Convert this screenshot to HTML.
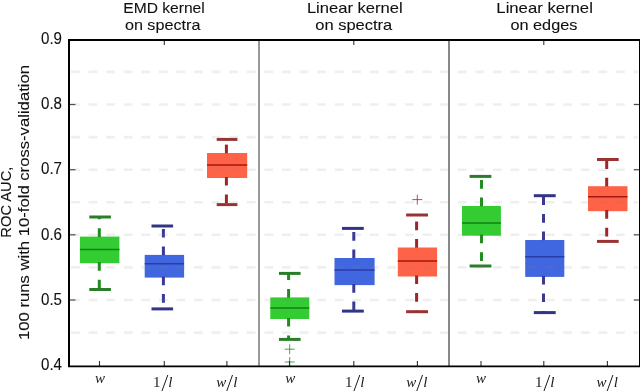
<!DOCTYPE html><html><head><meta charset="utf-8"><style>html,body{margin:0;padding:0;background:#fff;width:640px;height:391px;overflow:hidden}svg{display:block;will-change:transform}</style></head><body>
<svg width="640" height="391" viewBox="0 0 640 391">
<rect width="640" height="391" fill="#fff"/>
<rect x="79.9" y="236.6" width="39.5" height="26.6" fill="#33cc33"/>
<line x1="79.9" y1="249.4" x2="119.4" y2="249.4" stroke="#138013" stroke-width="1.5"/>
<line x1="99.3" y1="236.9" x2="99.3" y2="217.0" stroke="#228b22" stroke-width="3" stroke-dasharray="8.7 8.9"/>
<line x1="99.3" y1="262.1" x2="99.3" y2="289.5" stroke="#228b22" stroke-width="3" stroke-dasharray="8.7 8.9"/>
<line x1="89.3" y1="217.0" x2="110.9" y2="217.0" stroke="#2a7d2a" stroke-width="3"/>
<line x1="89.3" y1="289.5" x2="110.9" y2="289.5" stroke="#2a7d2a" stroke-width="3"/>
<rect x="144.7" y="254.9" width="39.4" height="22.7" fill="#4167e0"/>
<line x1="144.7" y1="263.8" x2="184.1" y2="263.8" stroke="#2a3ca8" stroke-width="1.5"/>
<line x1="163.4" y1="255.2" x2="163.4" y2="226.0" stroke="#3a3a96" stroke-width="3" stroke-dasharray="8.7 8.9"/>
<line x1="163.4" y1="276.5" x2="163.4" y2="308.9" stroke="#3a3a96" stroke-width="3" stroke-dasharray="8.7 8.9"/>
<line x1="151.5" y1="226.0" x2="173.1" y2="226.0" stroke="#333388" stroke-width="3"/>
<line x1="151.5" y1="308.9" x2="173.1" y2="308.9" stroke="#333388" stroke-width="3"/>
<rect x="207.0" y="153.0" width="40.2" height="25.0" fill="#ff6347"/>
<line x1="207.0" y1="165.0" x2="247.2" y2="165.0" stroke="#a01a12" stroke-width="1.5"/>
<line x1="226.4" y1="153.3" x2="226.4" y2="139.4" stroke="#a02626" stroke-width="3" stroke-dasharray="8.7 8.9"/>
<line x1="226.4" y1="176.9" x2="226.4" y2="204.6" stroke="#a02626" stroke-width="3" stroke-dasharray="8.7 8.9"/>
<line x1="216.7" y1="139.4" x2="237.4" y2="139.4" stroke="#993333" stroke-width="3"/>
<line x1="216.7" y1="204.6" x2="237.4" y2="204.6" stroke="#993333" stroke-width="3"/>
<rect x="270.3" y="297.4" width="39.0" height="21.6" fill="#33cc33"/>
<line x1="270.3" y1="308.0" x2="309.3" y2="308.0" stroke="#138013" stroke-width="1.5"/>
<line x1="288.6" y1="297.7" x2="288.6" y2="273.4" stroke="#228b22" stroke-width="3" stroke-dasharray="8.7 8.9"/>
<line x1="288.6" y1="317.9" x2="288.6" y2="339.4" stroke="#228b22" stroke-width="3" stroke-dasharray="8.7 8.9"/>
<line x1="279.0" y1="273.4" x2="300.6" y2="273.4" stroke="#2a7d2a" stroke-width="3"/>
<line x1="279.0" y1="339.4" x2="300.6" y2="339.4" stroke="#2a7d2a" stroke-width="3"/>
<rect x="334.5" y="258.0" width="40.1" height="27.1" fill="#4167e0"/>
<line x1="334.5" y1="269.9" x2="374.6" y2="269.9" stroke="#2a3ca8" stroke-width="1.5"/>
<line x1="353.8" y1="258.3" x2="353.8" y2="228.4" stroke="#3a3a96" stroke-width="3" stroke-dasharray="8.7 8.9"/>
<line x1="353.8" y1="284.0" x2="353.8" y2="311.1" stroke="#3a3a96" stroke-width="3" stroke-dasharray="8.7 8.9"/>
<line x1="342.0" y1="228.4" x2="363.8" y2="228.4" stroke="#333388" stroke-width="3"/>
<line x1="342.0" y1="311.1" x2="363.8" y2="311.1" stroke="#333388" stroke-width="3"/>
<rect x="397.8" y="247.5" width="39.3" height="29.0" fill="#ff6347"/>
<line x1="397.8" y1="260.9" x2="437.1" y2="260.9" stroke="#a01a12" stroke-width="1.5"/>
<line x1="416.6" y1="247.8" x2="416.6" y2="215.0" stroke="#a02626" stroke-width="3" stroke-dasharray="8.7 8.9"/>
<line x1="416.6" y1="275.4" x2="416.6" y2="311.7" stroke="#a02626" stroke-width="3" stroke-dasharray="8.7 8.9"/>
<line x1="406.1" y1="215.0" x2="428.0" y2="215.0" stroke="#993333" stroke-width="3"/>
<line x1="406.1" y1="311.7" x2="428.0" y2="311.7" stroke="#993333" stroke-width="3"/>
<rect x="462.0" y="206.0" width="38.9" height="29.7" fill="#33cc33"/>
<line x1="462.0" y1="222.9" x2="500.9" y2="222.9" stroke="#138013" stroke-width="1.5"/>
<line x1="481.5" y1="206.3" x2="481.5" y2="176.4" stroke="#228b22" stroke-width="3" stroke-dasharray="8.7 8.9"/>
<line x1="481.5" y1="234.6" x2="481.5" y2="266.0" stroke="#228b22" stroke-width="3" stroke-dasharray="8.7 8.9"/>
<line x1="469.6" y1="176.4" x2="491.4" y2="176.4" stroke="#2a7d2a" stroke-width="3"/>
<line x1="469.6" y1="266.0" x2="491.4" y2="266.0" stroke="#2a7d2a" stroke-width="3"/>
<rect x="525.2" y="240.0" width="39.1" height="36.9" fill="#4167e0"/>
<line x1="525.2" y1="256.7" x2="564.3" y2="256.7" stroke="#2a3ca8" stroke-width="1.5"/>
<line x1="543.5" y1="240.3" x2="543.5" y2="195.7" stroke="#3a3a96" stroke-width="3" stroke-dasharray="8.7 8.9"/>
<line x1="543.5" y1="275.8" x2="543.5" y2="312.6" stroke="#3a3a96" stroke-width="3" stroke-dasharray="8.7 8.9"/>
<line x1="533.8" y1="195.7" x2="555.7" y2="195.7" stroke="#333388" stroke-width="3"/>
<line x1="533.8" y1="312.6" x2="555.7" y2="312.6" stroke="#333388" stroke-width="3"/>
<rect x="588.0" y="186.2" width="39.5" height="25.0" fill="#ff6347"/>
<line x1="588.0" y1="196.8" x2="627.5" y2="196.8" stroke="#a01a12" stroke-width="1.5"/>
<line x1="606.7" y1="186.5" x2="606.7" y2="159.5" stroke="#a02626" stroke-width="3" stroke-dasharray="8.7 8.9"/>
<line x1="606.7" y1="210.1" x2="606.7" y2="241.4" stroke="#a02626" stroke-width="3" stroke-dasharray="8.7 8.9"/>
<line x1="597.0" y1="159.5" x2="618.7" y2="159.5" stroke="#993333" stroke-width="3"/>
<line x1="597.0" y1="241.4" x2="618.7" y2="241.4" stroke="#993333" stroke-width="3"/>
<path d="M284.7 349.2H294.7M289.7 344.2V354.2" stroke="#228b22" stroke-width="1" stroke-opacity="0.8" fill="none"/>
<path d="M284.7 362.0H294.7M289.7 357.0V367.0" stroke="#228b22" stroke-width="1" stroke-opacity="0.8" fill="none"/>
<path d="M412.3 199.6H422.3M417.3 194.6V204.6" stroke="#a02626" stroke-width="1" stroke-opacity="0.8" fill="none"/>
<line x1="71" y1="332.6" x2="638" y2="332.6" stroke="#808080" stroke-opacity="0.125" stroke-width="2.6" stroke-dasharray="8.8 8.78"/>
<line x1="71" y1="300.0" x2="638" y2="300.0" stroke="#808080" stroke-opacity="0.125" stroke-width="2.6" stroke-dasharray="8.8 8.78"/>
<line x1="71" y1="267.4" x2="638" y2="267.4" stroke="#808080" stroke-opacity="0.125" stroke-width="2.6" stroke-dasharray="8.8 8.78"/>
<line x1="71" y1="234.8" x2="638" y2="234.8" stroke="#808080" stroke-opacity="0.125" stroke-width="2.6" stroke-dasharray="8.8 8.78"/>
<line x1="71" y1="202.2" x2="638" y2="202.2" stroke="#808080" stroke-opacity="0.125" stroke-width="2.6" stroke-dasharray="8.8 8.78"/>
<line x1="71" y1="169.7" x2="638" y2="169.7" stroke="#808080" stroke-opacity="0.125" stroke-width="2.6" stroke-dasharray="8.8 8.78"/>
<line x1="71" y1="137.1" x2="638" y2="137.1" stroke="#808080" stroke-opacity="0.125" stroke-width="2.6" stroke-dasharray="8.8 8.78"/>
<line x1="71" y1="104.5" x2="638" y2="104.5" stroke="#808080" stroke-opacity="0.125" stroke-width="2.6" stroke-dasharray="8.8 8.78"/>
<line x1="71" y1="71.9" x2="638" y2="71.9" stroke="#808080" stroke-opacity="0.125" stroke-width="2.6" stroke-dasharray="8.8 8.78"/>
<line x1="259" y1="40" x2="259" y2="366" stroke="#999" stroke-width="2"/>
<line x1="449" y1="40" x2="449" y2="366" stroke="#888" stroke-width="2"/>
<line x1="70" y1="300.0" x2="75.5" y2="300.0" stroke="#505050" stroke-width="1.2"/>
<line x1="633.8" y1="300.0" x2="639" y2="300.0" stroke="#505050" stroke-width="1.2"/>
<line x1="70" y1="234.8" x2="75.5" y2="234.8" stroke="#505050" stroke-width="1.2"/>
<line x1="633.8" y1="234.8" x2="639" y2="234.8" stroke="#505050" stroke-width="1.2"/>
<line x1="70" y1="169.7" x2="75.5" y2="169.7" stroke="#505050" stroke-width="1.2"/>
<line x1="633.8" y1="169.7" x2="639" y2="169.7" stroke="#505050" stroke-width="1.2"/>
<line x1="70" y1="104.5" x2="75.5" y2="104.5" stroke="#505050" stroke-width="1.2"/>
<line x1="633.8" y1="104.5" x2="639" y2="104.5" stroke="#505050" stroke-width="1.2"/>
<line x1="99.5" y1="361" x2="99.5" y2="366" stroke="#333" stroke-width="1.1"/>
<line x1="164.3" y1="361" x2="164.3" y2="366" stroke="#333" stroke-width="1.1"/>
<line x1="226.9" y1="361" x2="226.9" y2="366" stroke="#333" stroke-width="1.1"/>
<line x1="289.5" y1="361" x2="289.5" y2="366" stroke="#333" stroke-width="1.1"/>
<line x1="353.8" y1="361" x2="353.8" y2="366" stroke="#333" stroke-width="1.1"/>
<line x1="417.4" y1="361" x2="417.4" y2="366" stroke="#333" stroke-width="1.1"/>
<line x1="481.0" y1="361" x2="481.0" y2="366" stroke="#333" stroke-width="1.1"/>
<line x1="543.8" y1="361" x2="543.8" y2="366" stroke="#333" stroke-width="1.1"/>
<line x1="607.4" y1="361" x2="607.4" y2="366" stroke="#333" stroke-width="1.1"/>
<line x1="164.3" y1="40" x2="164.3" y2="45" stroke="#333" stroke-width="1.1"/>
<line x1="353.8" y1="40" x2="353.8" y2="45" stroke="#333" stroke-width="1.1"/>
<line x1="543.8" y1="40" x2="543.8" y2="45" stroke="#333" stroke-width="1.1"/>
<path d="M69 39V367M68 40H641M640 39V367" fill="none" stroke="#000" stroke-width="2"/>
<path d="M68 366.4H641" fill="none" stroke="#000" stroke-width="1.6"/>
<text x="62" y="369.9" font-family="Liberation Sans, sans-serif" stroke="#111" stroke-width="0.1" font-size="16" text-anchor="end" fill="#111" textLength="21" lengthAdjust="spacingAndGlyphs">0.4</text>
<text x="62" y="304.7" font-family="Liberation Sans, sans-serif" stroke="#111" stroke-width="0.1" font-size="16" text-anchor="end" fill="#111" textLength="21" lengthAdjust="spacingAndGlyphs">0.5</text>
<text x="62" y="239.5" font-family="Liberation Sans, sans-serif" stroke="#111" stroke-width="0.1" font-size="16" text-anchor="end" fill="#111" textLength="21" lengthAdjust="spacingAndGlyphs">0.6</text>
<text x="62" y="174.4" font-family="Liberation Sans, sans-serif" stroke="#111" stroke-width="0.1" font-size="16" text-anchor="end" fill="#111" textLength="21" lengthAdjust="spacingAndGlyphs">0.7</text>
<text x="62" y="109.2" font-family="Liberation Sans, sans-serif" stroke="#111" stroke-width="0.1" font-size="16" text-anchor="end" fill="#111" textLength="21" lengthAdjust="spacingAndGlyphs">0.8</text>
<text x="62" y="44.0" font-family="Liberation Sans, sans-serif" stroke="#111" stroke-width="0.1" font-size="16" text-anchor="end" fill="#111" textLength="21" lengthAdjust="spacingAndGlyphs">0.9</text>
<text x="164" y="13.3" font-family="Liberation Sans, sans-serif" stroke="#111" stroke-width="0.1" font-size="15" text-anchor="middle" fill="#111" textLength="81.5" lengthAdjust="spacingAndGlyphs">EMD kernel</text>
<text x="162.65" y="30.3" font-family="Liberation Sans, sans-serif" stroke="#111" stroke-width="0.1" font-size="15" text-anchor="middle" fill="#111" textLength="75.5" lengthAdjust="spacingAndGlyphs">on spectra</text>
<text x="354.8" y="13.3" font-family="Liberation Sans, sans-serif" stroke="#111" stroke-width="0.1" font-size="15" text-anchor="middle" fill="#111" textLength="95.8" lengthAdjust="spacingAndGlyphs">Linear kernel</text>
<text x="353.75" y="30.3" font-family="Liberation Sans, sans-serif" stroke="#111" stroke-width="0.1" font-size="15" text-anchor="middle" fill="#111" textLength="77" lengthAdjust="spacingAndGlyphs">on spectra</text>
<text x="544.6" y="13.3" font-family="Liberation Sans, sans-serif" stroke="#111" stroke-width="0.1" font-size="15" text-anchor="middle" fill="#111" textLength="96.5" lengthAdjust="spacingAndGlyphs">Linear kernel</text>
<text x="543.9" y="30.3" font-family="Liberation Sans, sans-serif" stroke="#111" stroke-width="0.1" font-size="15" text-anchor="middle" fill="#111" textLength="67" lengthAdjust="spacingAndGlyphs">on edges</text>
<text transform="translate(11.3 202.15) rotate(-90)" x="0" y="0" font-family="Liberation Sans, sans-serif" stroke="#111" stroke-width="0.1" font-size="15" text-anchor="middle" fill="#111" textLength="71" lengthAdjust="spacingAndGlyphs">ROC AUC,</text>
<text transform="translate(28.5 202.5) rotate(-90)" x="0" y="0" font-family="Liberation Sans, sans-serif" stroke="#111" stroke-width="0.1" font-size="15" text-anchor="middle" fill="#111" textLength="275" lengthAdjust="spacingAndGlyphs">100 runs with 10-fold cross-validation</text>
<text x="100.0" y="382.8" font-family="Liberation Serif, serif" font-size="15" font-style="italic" text-anchor="middle" fill="#1a1a1a">w</text>
<text x="290.2" y="382.8" font-family="Liberation Serif, serif" font-size="15" font-style="italic" text-anchor="middle" fill="#1a1a1a">w</text>
<text x="480.9" y="382.8" font-family="Liberation Serif, serif" font-size="15" font-style="italic" text-anchor="middle" fill="#1a1a1a">w</text>
<text x="156.8" y="387.4" font-family="Liberation Serif, serif" font-size="15" text-anchor="middle" fill="#1a1a1a">1</text>
<path d="M161.8 391.5L167.8 375" stroke="#1a1a1a" stroke-width="1" fill="none"/>
<text x="170.3" y="387.4" font-family="Liberation Serif, serif" font-size="15" font-style="italic" text-anchor="middle" fill="#1a1a1a">l</text>
<text x="348.8" y="387.4" font-family="Liberation Serif, serif" font-size="15" text-anchor="middle" fill="#1a1a1a">1</text>
<path d="M353.8 391.5L359.8 375" stroke="#1a1a1a" stroke-width="1" fill="none"/>
<text x="362.3" y="387.4" font-family="Liberation Serif, serif" font-size="15" font-style="italic" text-anchor="middle" fill="#1a1a1a">l</text>
<text x="538.8" y="387.4" font-family="Liberation Serif, serif" font-size="15" text-anchor="middle" fill="#1a1a1a">1</text>
<path d="M543.8 391.5L549.8 375" stroke="#1a1a1a" stroke-width="1" fill="none"/>
<text x="552.3" y="387.4" font-family="Liberation Serif, serif" font-size="15" font-style="italic" text-anchor="middle" fill="#1a1a1a">l</text>
<text x="221.2" y="387.4" font-family="Liberation Serif, serif" font-size="15" font-style="italic" text-anchor="middle" fill="#1a1a1a">w</text>
<path d="M226.6 391.5L232.5 375" stroke="#1a1a1a" stroke-width="1" fill="none"/>
<text x="235.4" y="387.4" font-family="Liberation Serif, serif" font-size="15" font-style="italic" text-anchor="middle" fill="#1a1a1a">l</text>
<text x="411.2" y="387.4" font-family="Liberation Serif, serif" font-size="15" font-style="italic" text-anchor="middle" fill="#1a1a1a">w</text>
<path d="M416.6 391.5L422.5 375" stroke="#1a1a1a" stroke-width="1" fill="none"/>
<text x="425.4" y="387.4" font-family="Liberation Serif, serif" font-size="15" font-style="italic" text-anchor="middle" fill="#1a1a1a">l</text>
<text x="601.6" y="387.4" font-family="Liberation Serif, serif" font-size="15" font-style="italic" text-anchor="middle" fill="#1a1a1a">w</text>
<path d="M607.0 391.5L612.9 375" stroke="#1a1a1a" stroke-width="1" fill="none"/>
<text x="615.8" y="387.4" font-family="Liberation Serif, serif" font-size="15" font-style="italic" text-anchor="middle" fill="#1a1a1a">l</text>
</svg></body></html>
